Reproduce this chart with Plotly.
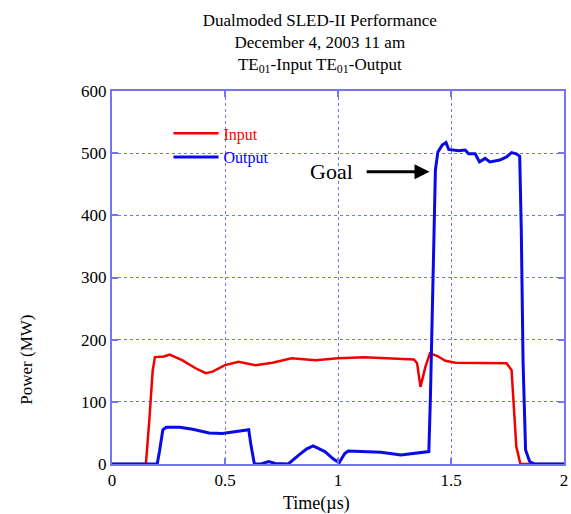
import plotly.graph_objects as go

# ---- data ----
input_t = [0, 0.15, 0.165, 0.18, 0.19, 0.23, 0.255, 0.31, 0.37, 0.415, 0.445, 0.5, 0.56,
           0.635, 0.71, 0.795, 0.9, 1.0, 1.117, 1.234, 1.336, 1.35, 1.365, 1.387, 1.407,
           1.44, 1.475, 1.52, 1.63, 1.746, 1.768, 1.778, 1.789, 1.807, 1.85, 2.0]
input_p = [0, 0, 70, 150, 172, 173, 176, 167, 154, 146, 148.5, 159, 164.6,
           159, 163, 170, 167, 170, 171.6, 170, 168, 162, 124, 156.5, 178,
           173.7, 166, 163, 163, 162, 151, 97.6, 28, 0, 0, 0]

output_t = [0, 0.2, 0.21, 0.225, 0.24, 0.3, 0.357, 0.43, 0.488, 0.547, 0.605, 0.615, 0.63,
            0.66, 0.693, 0.722, 0.78, 0.825, 0.86, 0.89, 0.942, 0.98, 1.005, 1.015, 1.03,
            1.045, 1.19, 1.278, 1.395, 1.402, 1.409, 1.421, 1.431, 1.442, 1.461, 1.478,
            1.49, 1.534, 1.563, 1.578, 1.607, 1.626, 1.651, 1.672, 1.716, 1.746, 1.768,
            1.789, 1.804, 1.811, 1.819, 1.83, 1.848, 1.87, 2.0]
output_p = [0, 0, 20, 55, 59, 59, 56, 50, 49, 52, 55, 30, 0,
            0, 4, 1, 0, 14, 24, 29, 20, 8, 2, 8, 17,
            21, 19, 14.5, 20, 20, 108, 323, 473, 502, 513, 517,
            506, 504, 505, 499, 499, 486, 491.6, 486, 489, 494, 501,
            499, 495, 376, 162, 22.5, 4, 0, 0]

x_ticks = [0, 0.5, 1, 1.5, 2]
x_tick_labels = ["0", "0.5", "1", "1.5", "2"]
y_ticks = [0, 100, 200, 300, 400, 500, 600]

goal_label = "Goal"
goal_level = 470
goal_text_x = 0.97
goal_arrow_from = 1.12
goal_arrow_to = 1.405

SERIF = "Liberation Serif, Times New Roman, serif"
AXIS_BLUE = "#7474f4"
GRID_BLUE = "#7070ff"

fig = go.Figure()
fig.add_trace(go.Scatter(x=input_t, y=input_p, mode="lines",
                         name='<span style="color:#ff0000">Input</span>',
                         line=dict(color="#f00000", width=2.5)))
fig.add_trace(go.Scatter(x=output_t, y=output_p, mode="lines",
                         name='<span style="color:#0000ff">Output</span>',
                         line=dict(color="#0a0ae6", width=3)))

fig.add_annotation(x=goal_text_x, y=goal_level, xref="x", yref="y", text=goal_label,
                   showarrow=False, font=dict(family=SERIF, size=22, color="black"))
fig.add_annotation(x=goal_arrow_to, y=goal_level, ax=goal_arrow_from, ay=goal_level,
                   xref="x", yref="y", axref="x", ayref="y", text="",
                   showarrow=True, arrowhead=2, arrowsize=1, arrowwidth=3,
                   arrowcolor="black", standoff=0)

# axis titles (placed as in the reference)
fig.add_annotation(x=0.452, y=-0.105, xref="paper", yref="paper", text="Time(µs)",
                   showarrow=False, xanchor="center", yanchor="middle",
                   font=dict(family=SERIF, size=18, color="black"))
fig.add_annotation(x=-0.19, y=0.28, xref="paper", yref="paper", text="Power (MW)",
                   showarrow=False, xanchor="center", yanchor="middle", textangle=-90,
                   font=dict(family=SERIF, size=17, color="black"))

axis_common = dict(showline=True, linecolor=AXIS_BLUE, linewidth=2, mirror="ticks",
                   ticks="inside", ticklen=6, tickcolor=AXIS_BLUE, tickwidth=1.5,
                   showgrid=True, gridcolor=GRID_BLUE, griddash="dot", gridwidth=1.2,
                   zeroline=False, tickfont=dict(family=SERIF, size=17, color="black"))

fig.update_xaxes(range=[0, 2], tickvals=x_ticks, ticktext=x_tick_labels, **axis_common)
fig.update_yaxes(range=[0, 600], tickvals=y_ticks, **axis_common)

fig.update_layout(
    width=571, height=514,
    margin=dict(l=112, r=3, t=91, b=50),
    paper_bgcolor="white", plot_bgcolor="white",
    title=dict(text="Dualmoded SLED-II Performance<br>December 4, 2003 11 am<br>"
                    "TE<sub>01</sub>-Input TE<sub>01</sub>-Output",
               x=0.56, xanchor="center", y=0.95, yanchor="top",
               font=dict(family=SERIF, size=17, color="black")),
    legend=dict(x=0.125, y=0.932, xanchor="left", yanchor="top",
                bgcolor="rgba(0,0,0,0)", font=dict(family=SERIF, size=16),
                itemwidth=45, tracegroupgap=0),
    showlegend=True,
)

fig.write_html("out.html")
